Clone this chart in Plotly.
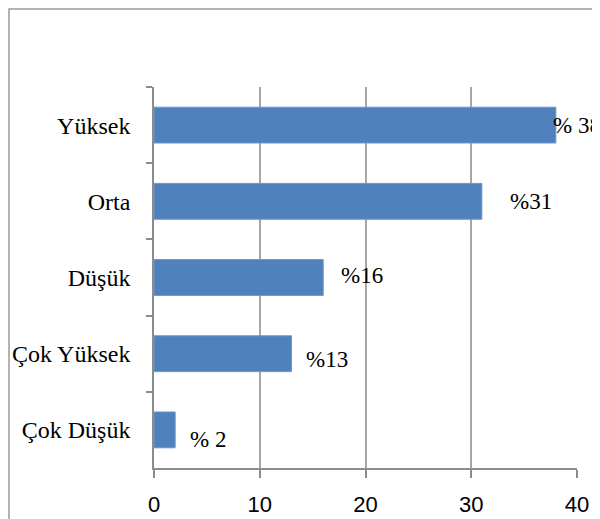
import plotly.graph_objects as go

categories = ["Yüksek", "Orta", "Düşük", "Çok Yüksek", "Çok Düşük"]
values = [38, 31, 16, 13, 2]
labels = ["% 38", "%31", "%16", "%13", "% 2"]
x_ticks = [0, 10, 20, 30, 40]

label_xshift = [-5, 26, 16, 13, 13]
label_yshift = [0, 0, 2, -6, -10]

fig = go.Figure()
fig.add_trace(go.Bar(
    x=values, y=categories, orientation="h",
    marker=dict(color="#4F81BD", line=dict(color="#6F95C8", width=1)),
    width=0.47, hoverinfo="skip",
))

for v, c, t, dx, dy in zip(values, categories, labels, label_xshift, label_yshift):
    fig.add_annotation(x=v, y=c, text=t, showarrow=False, xanchor="left",
                       yanchor="middle", xshift=dx, yshift=dy,
                       font=dict(family="Liberation Serif", size=23, color="black"))

OFF = 8  # page offset of the figure inside the window
L, R, T, B = 154 - OFF, 23 + OFF, 87 - OFF, 51 + OFF
W, H = 600 - L - R, 519 - T - B
# outer chart frame (left and top edges visible)
fig.add_shape(type="rect", xref="paper", yref="paper",
              x0=(1 - L) / W, x1=(640 - L) / W,
              y0=1 + (T - 560) / H, y1=1 + (T - 1) / H,
              line=dict(color="#9A9A9A", width=1.5), fillcolor="rgba(0,0,0,0)", layer="below")

fig.update_layout(
    width=600, height=519,
    margin=dict(l=L, r=R, t=T, b=B, autoexpand=False),
    paper_bgcolor="white", plot_bgcolor="white",
    showlegend=False,
    bargap=0.53,
    xaxis=dict(range=[0, 40], tickvals=x_ticks, showgrid=True, gridcolor="#A6A6A6", gridwidth=1.5,
               showline=True, linecolor="#8C8C8C", linewidth=1.5, ticks="outside", ticklen=8,
               tickcolor="#8C8C8C", tickwidth=1.5, zeroline=False, automargin=False,
               tickfont=dict(family="Liberation Sans", size=22, color="black"),
               ticklabelstandoff=8),
    yaxis=dict(autorange="reversed", type="category", showgrid=False, showline=True,
               linecolor="#8C8C8C", linewidth=1.5, ticks="outside", tickson="boundaries",
               ticklen=6, tickcolor="#8C8C8C", tickwidth=1.5, automargin=False,
               tickfont=dict(family="Liberation Serif", size=24, color="black"),
               ticklabelstandoff=17),
)

fig.write_html("out.html")
